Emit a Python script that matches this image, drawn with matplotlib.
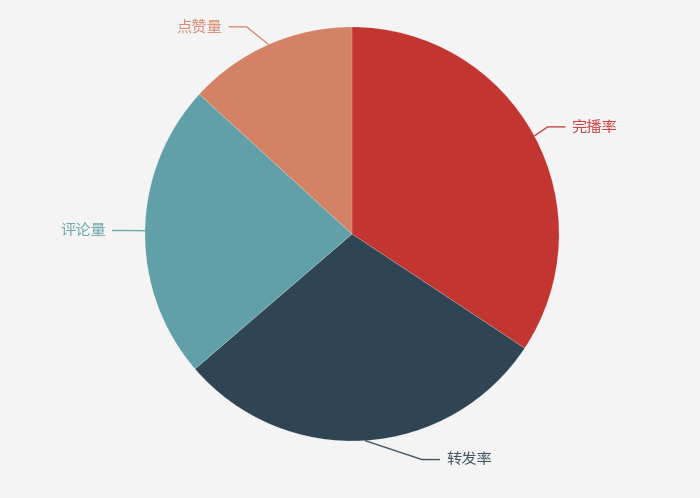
import numpy as np
import matplotlib
matplotlib.use("Agg")
import matplotlib.pyplot as plt

plt.rcParams["font.family"] = ["Noto Sans CJK SC", "DejaVu Sans"]

# 数据
names = ["完播率", "转发率", "评论量", "点赞量"]
values = [34.3, 29.4, 23.1, 13.2]
colors = ["#c23531", "#2f4554", "#61a0a8", "#d48265"]

# 画布 (像素坐标)
W, H = 700, 498
cx, cy, r = 352, H - 234, 207
line_len1 = 15
line_len2 = 18
# 标签避让偏移 (像素)
elbow_shift = {"完播率": (0, 2), "点赞量": (-16, 4), "转发率": (56, -4)}

fig = plt.figure(figsize=(W / 100, H / 100), dpi=100)
fig.patch.set_facecolor("#f4f4f4")
ax = fig.add_axes([0, 0, 1, 1])
ax.set_facecolor("#f4f4f4")

wedges, _ = ax.pie(
    values,
    colors=colors,
    startangle=90,
    counterclock=False,
    center=(cx, cy),
    radius=r,
    wedgeprops={"edgecolor": (1, 1, 1, 0.35), "linewidth": 0.3},
)

for w, name, col in zip(wedges, names, colors):
    mid = np.deg2rad((w.theta1 + w.theta2) / 2)
    c, s = np.cos(mid), np.sin(mid)
    x0, y0 = cx + r * c, cy + r * s
    x1, y1 = cx + (r + line_len1) * c, cy + (r + line_len1) * s
    dx, dy = elbow_shift.get(name, (0, 0))
    x1, y1 = x1 + dx, y1 + dy
    side = 1 if c >= 0 else -1
    x2 = x1 + side * line_len2
    ax.plot([x0, x1, x2], [y0, y1, y1], color=col, lw=1.0, alpha=0.9,
            solid_capstyle="butt")
    ax.text(
        x2 + side * 6,
        y1,
        name,
        color=col,
        alpha=0.9,
        fontsize=11,
        ha="left" if side > 0 else "right",
        va="center",
    )

ax.set_xlim(0, W)
ax.set_ylim(0, H)
ax.set_aspect("equal")
ax.axis("off")

fig.savefig("out.png", dpi=100, facecolor=fig.get_facecolor())
